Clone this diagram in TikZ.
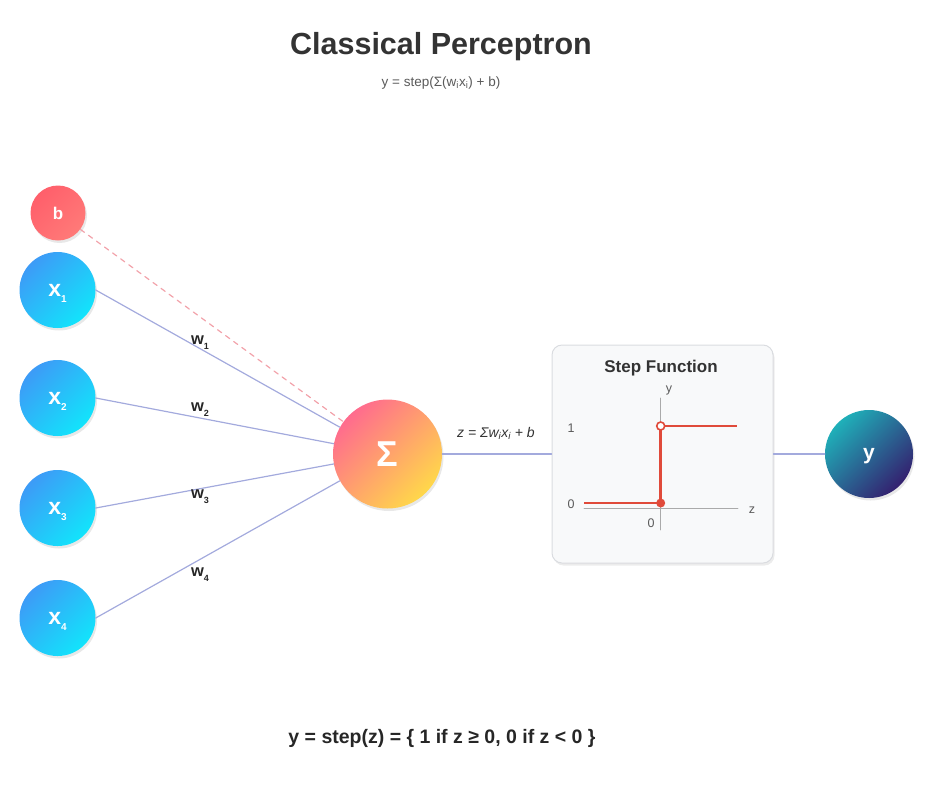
\documentclass[tikz,border=0pt]{standalone}
\usepackage{fontspec}
\setmainfont{Liberation Sans}
\usetikzlibrary{shadows}
\definecolor{pcink}{HTML}{333333}
\definecolor{pcgrey}{HTML}{5A5A5A}
\definecolor{pcaxis}{HTML}{AAAAAA}
\definecolor{pcedge}{HTML}{A3AADD}
\definecolor{pcbias}{HTML}{F2A2AA}
\definecolor{pcred}{HTML}{E04A3A}
\definecolor{pcbtop}{HTML}{FF5F6B}
\definecolor{pcbbot}{HTML}{FF7A78}
\definecolor{pcxtop}{HTML}{3D9BF7}
\definecolor{pcxbot}{HTML}{12E4FB}
\definecolor{pcstop}{HTML}{FF6B8E}
\definecolor{pcsbot}{HTML}{FFD84A}
\definecolor{pcytop}{HTML}{1FB0B9}
\definecolor{pcybot}{HTML}{34206F}
\definecolor{pcbox}{HTML}{F8F9FA}
\definecolor{pcboxline}{HTML}{DADCE0}
% small, low index
\newcommand\lowsub[2][9]{\raisebox{-0.55ex}[0pt][0pt]{\fontsize{#1}{#1}\selectfont #2}}

\begin{document}
\begin{tikzpicture}[x=1pt,y=-1pt,line cap=round,
    unit/.style={circle,inner sep=0pt,text=white,
      drop shadow={opacity=0.18,shadow xshift=1.5pt,shadow yshift=-2.5pt}},
    inputunit/.style={unit,minimum size=76pt,top color=pcxtop,bottom color=pcxbot,
      shading angle=45,font=\fontsize{23}{23}\selectfont\bfseries},
    wire/.style={pcedge,line width=1.2pt},
    weight/.style={font=\fontsize{16.5}{16.5}\selectfont\bfseries,text=black!85},
    ticklbl/.style={font=\fontsize{12.5}{12.5}\selectfont,text=pcgrey}]
  \useasboundingbox (0,0) rectangle (936,788);

  % headings
  \node[font=\fontsize{30.5}{36}\selectfont\bfseries,text=pcink,anchor=base] (title) at (441,54) {Classical Perceptron};
  \node[font=\fontsize{13.5}{16}\selectfont,text=pcgrey,anchor=base] (subtitle) at (441,86) {y = step(Σ(w\textsubscript{i}x\textsubscript{i}) + b)};

  % inputs, bias and sum
  \node[unit,minimum size=55pt,top color=pcbtop,bottom color=pcbbot,shading angle=45,
    font=\fontsize{17}{17}\selectfont\bfseries] (b) at (58,213) {b};
  \foreach \i/\yy in {1/290,2/398,3/508,4/618}
    \node[inputunit] (x\i) at (57.5,\yy) {x\lowsub[10]{\i}};
  \node[unit,minimum size=109pt,top color=pcstop,bottom color=pcsbot,shading angle=45,
    font=\fontsize{36}{36}\selectfont\bfseries] (sum) at (387.5,454) {\raisebox{-3pt}{Σ}};

  \draw[pcbias,line width=1.2pt,dash pattern=on 5pt off 5pt] (b) -- (sum);
  \foreach \i in {1,...,4}
    \draw[wire] (x\i.east) -- (sum);
  \foreach \i/\yy in {1/340,2/407,3/494,4/572}
    \node[weight] (w\i) at (200,\yy) {w\lowsub{\i}};

  % step function card
  \node[draw=pcboxline,fill=pcbox,rounded corners=10pt,line width=1pt,
    minimum width=221pt,minimum height=218pt,
    drop shadow={opacity=0.15,shadow xshift=1.5pt,shadow yshift=-2.5pt}] (card) at (662.5,454) {};
  \node[font=\fontsize{17}{17}\selectfont\bfseries,text=pcink,anchor=base] (cardtitle) at (661,372) {Step Function};

  \draw[wire] (sum) -- (card);
  \node[font=\fontsize{14}{14}\selectfont\itshape,text=pcink,anchor=base] (zlbl) at (496,437) {z = Σw\textsubscript{i}x\textsubscript{i} + b};

  \coordinate (zl) at (584,508);
  \coordinate (zr) at (738,508);
  \coordinate (yb) at (660.7,530);
  \coordinate (yt) at (660.7,398);
  \draw[pcaxis,line width=0.8pt] (zl) -- (zr);
  \draw[pcaxis,line width=0.8pt] (yb) -- (yt);
  \draw[pcred,line width=2.8pt,line cap=butt] (584,503) -- (660.7,503) -- (660.7,426) -- (737,426);
  \fill[pcred] (660.7,503) circle (4.5pt);
  \draw[pcred,fill=white,line width=1.6pt] (660.7,426) circle (4pt);
  \node[ticklbl] (ylbl) at (669,390) {y};
  \node[ticklbl] (zaxlbl) at (752,510) {z};
  \node[ticklbl] (one) at (571,428) {1};
  \node[ticklbl] (zeroy) at (571,504) {0};
  \node[ticklbl] (zeroz) at (651,523) {0};

  % output
  \node[unit,minimum size=88pt,top color=pcytop,bottom color=pcybot,shading angle=45,
    text depth=0pt,font=\fontsize{21}{21}\selectfont\bfseries] (out) at (869,454) {y};
  \draw[wire] (card) -- (out);

  \node[font=\fontsize{19.5}{22}\selectfont\bfseries,text=black!85,anchor=base] (rule) at (442,743) {y = step(z) = \{ 1 if z ≥ 0, 0 if z < 0 \}};
\end{tikzpicture}
\end{document}
